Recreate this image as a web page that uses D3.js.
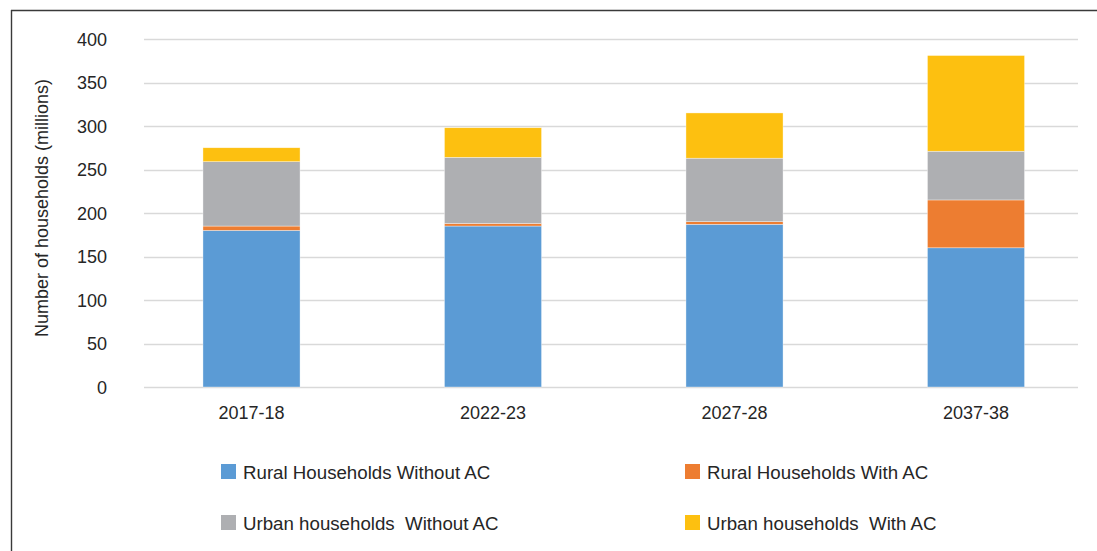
<!DOCTYPE html>
<html>
<head>
<meta charset="utf-8">
<script src="https://cdn.jsdelivr.net/npm/d3@7"></script>
<style>
  html, body { margin: 0; padding: 0; background: #fff; }
  text { font-family: "Liberation Sans", Arial, sans-serif; fill: #262626; }
</style>
</head>
<body>
<svg id="chart" width="1097" height="551"></svg>
<script>
const categories = ["2017-18", "2022-23", "2027-28", "2037-38"];
const seriesNames = [
  "Rural Households Without AC",
  "Rural Households With AC",
  "Urban households  Without AC",
  "Urban households  With AC"
];
const ruralWithoutAC = [180, 185, 187, 160];
const ruralWithAC    = [5, 3, 3, 55];
const urbanWithoutAC = [74, 76, 73, 56];
const urbanWithAC    = [16, 34, 52, 110];
const yTicks = [0, 50, 100, 150, 200, 250, 300, 350, 400];
const colors = ["#5b9bd5", "#ed7d31", "#aeafb2", "#fdc010"];

const seriesValues = [ruralWithoutAC, ruralWithAC, urbanWithoutAC, urbanWithAC];
const rows = categories.map((c, i) => {
  const r = { cat: c };
  seriesNames.forEach((s, k) => r[s] = seriesValues[k][i]);
  return r;
});

const svg = d3.select("#chart");

// outer frame (top and left edges visible)
svg.append("line").attr("x1", 11).attr("x2", 1097).attr("y1", 10.5).attr("y2", 10.5)
  .attr("stroke", "#3a3a3a").attr("stroke-width", 1.4);
svg.append("line").attr("x1", 11.5).attr("x2", 11.5).attr("y1", 10).attr("y2", 551)
  .attr("stroke", "#3a3a3a").attr("stroke-width", 1.4);

const y = d3.scaleLinear().domain([0, 400]).range([387, 39]);
const x = d3.scaleBand().domain(categories).range([130.75, 1096.75])
  .paddingInner(0.598).paddingOuter(0.299);

// gridlines
svg.append("g").selectAll("line").data(yTicks).join("line")
  .attr("x1", 144).attr("x2", 1078)
  .attr("y1", d => Math.round(y(d)) + 0.5).attr("y2", d => Math.round(y(d)) + 0.5)
  .attr("stroke", "#d9d9d9").attr("stroke-width", 1.6);

// y tick labels
svg.append("g").selectAll("text").data(yTicks).join("text")
  .attr("x", 107).attr("y", d => y(d) + 6.5)
  .attr("text-anchor", "end").attr("font-size", 18).text(d => d);

// y axis title
svg.append("text")
  .attr("transform", "translate(48,208) rotate(-90)")
  .attr("text-anchor", "middle").attr("font-size", 18)
  .text("Number of households (millions)");

// stacked bars
const stack = d3.stack().keys(seriesNames)(rows);
svg.append("g").selectAll("g").data(stack).join("g")
  .attr("fill", (d, i) => colors[i])
  .selectAll("rect").data(d => d).join("rect")
  .attr("x", d => x(d.data.cat))
  .attr("width", x.bandwidth())
  .attr("y", d => y(d[1]))
  .attr("height", d => y(d[0]) - y(d[1]))
  .attr("stroke", "#ffffff").attr("stroke-width", 0.6).attr("stroke-opacity", 0.6);

// x labels
svg.append("g").selectAll("text").data(categories).join("text")
  .attr("x", d => x(d) + x.bandwidth() / 2).attr("y", 419)
  .attr("text-anchor", "middle").attr("font-size", 18).text(d => d);

// legend
const legendPos = [
  { sx: 221, ty: 464 }, { sx: 685, ty: 464 },
  { sx: 221, ty: 515 }, { sx: 685, ty: 515 }
];
const lg = svg.append("g").selectAll("g").data(seriesNames).join("g")
  .attr("transform", (d, i) => `translate(${legendPos[i].sx},${legendPos[i].ty})`);
lg.append("rect").attr("width", 15).attr("height", 15).attr("fill", (d, i) => colors[i]);
lg.append("text").attr("x", 22).attr("y", 14.5).attr("font-size", 18.7)
  .attr("xml:space", "preserve").style("white-space", "pre").text(d => d);
</script>
</body>
</html>
